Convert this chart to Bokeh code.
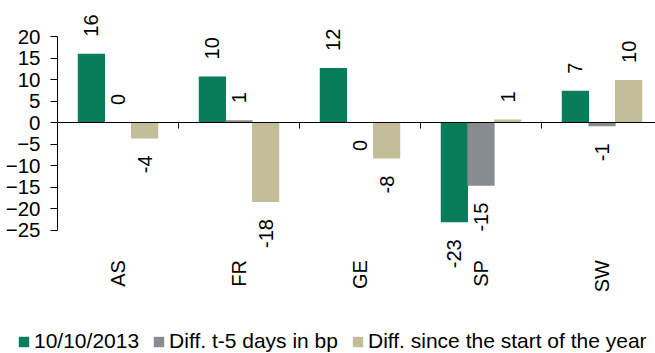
import numpy as np
from bokeh.plotting import figure
from bokeh.models import (ColumnDataSource, Legend, LegendItem, SingleIntervalTicker,
                          FixedTicker, LinearAxis)
from bokeh.core.properties import value
from bokeh.embed import file_html
from bokeh.resources import INLINE

# ---- data ----
categories = ["AS", "FR", "GE", "SP", "SW"]
series_names = ["10/10/2013", "Diff. t-5 days in bp", "Diff. since the start of the year"]
level = [16.0, 10.7, 12.7, -23.2, 7.4]
diff_5d = [0.1, 0.5, -0.1, -14.7, -0.9]
diff_ytd = [-3.7, -18.5, -8.4, 0.7, 9.9]
level_labels = ["16", "10", "12", "-23", "7"]
diff_5d_labels = ["0", "1", "0", "-15", "-1"]
diff_ytd_labels = ["-4", "-18", "-8", "1", "10"]

colors = ["#077d5a", "#878c91", "#c3bd98"]
FONT = "Liberation Sans"

px_per_unit = 4.3
px_per_cat = 121.0
W, H = 655, 353
axis_px = 57
zero_from_top = 122
y_top = zero_from_top / px_per_unit
y_bot = -(H - zero_from_top) / px_per_unit
x_start = -axis_px / px_per_cat
x_end = (W - axis_px) / px_per_cat

p = figure(width=W, height=H, output_backend="svg", toolbar_location=None,
           x_range=(x_start, x_end), y_range=(y_bot, y_top),
           x_axis_location=None, y_axis_location=None,
           min_border_left=0, min_border_right=0, min_border_top=0, min_border_bottom=0)
p.outline_line_color = None
p.grid.visible = False
p.background_fill_color = "white"
p.border_fill_color = "white"

yax = LinearAxis(fixed_location=0)
yax.ticker = SingleIntervalTicker(interval=5, num_minor_ticks=0)
yax.bounds = (-25, 20)
yax.major_label_text_font = FONT
yax.major_label_text_font_size = "20.5px"
yax.major_label_text_color = "black"
yax.axis_line_color = "black"
yax.major_tick_line_color = "black"
yax.major_tick_out = 7
yax.major_tick_in = 0
yax.minor_tick_line_color = None
yax.major_label_standoff = 10
p.add_layout(yax, "left")

xax = LinearAxis(fixed_location=0)
xax.ticker = FixedTicker(ticks=list(range(len(categories) + 1)))
xax.bounds = (0, len(categories))
xax.major_label_text_color = None
xax.major_label_text_font_size = "1px"
xax.axis_line_color = "black"
xax.major_tick_line_color = "black"
xax.major_tick_out = 6
xax.major_tick_in = 0
xax.minor_tick_line_color = None
p.add_layout(xax, "below")

xs = np.arange(len(categories)) + 0.5
offsets = [-0.22, 0.0, 0.22]
series = [level, diff_5d, diff_ytd]
labels = [level_labels, diff_5d_labels, diff_ytd_labels]
bar_w = 0.225

renderers = []
for vals, labs, off, col in zip(series, labels, offsets, colors):
    vals = np.array(vals)
    src = ColumnDataSource(dict(x=xs + off, top=vals, bottom=np.zeros_like(vals)))
    r = p.vbar(x="x", top="top", bottom="bottom", width=bar_w, source=src,
               fill_color=col, line_color=None)
    renderers.append(r)
    pos = vals >= 0
    lab = np.array(labs)
    if pos.any():
        p.text(x=(xs + off)[pos], y=vals[pos], text=lab[pos], angle=np.pi / 2,
               text_align="left", text_baseline="middle", y_offset=-17,
               text_font=value(FONT), text_font_size="20px", text_color="black")
    if (~pos).any():
        p.text(x=(xs + off)[~pos], y=vals[~pos], text=lab[~pos], angle=np.pi / 2,
               text_align="right", text_baseline="middle", y_offset=17,
               text_font=value(FONT), text_font_size="20px", text_color="black")

# category labels
p.text(x=xs, y=np.full(len(xs), -32.0), text=categories, angle=np.pi / 2,
       text_align="right", text_baseline="middle",
       text_font=value(FONT), text_font_size="20px", text_color="black")

legend = Legend(items=[LegendItem(label=n, renderers=[r]) for n, r in zip(series_names, renderers)],
                orientation="horizontal", location=(17, 0))
legend.label_text_font = FONT
legend.label_text_font_size = "21px"
legend.label_text_color = "black"
legend.glyph_width = 13
legend.glyph_height = 13
legend.label_standoff = 4
legend.spacing = 13
legend.padding = 0
legend.margin = 0
legend.border_line_color = None
legend.background_fill_alpha = 0
p.add_layout(legend)

open("out.html", "w").write(file_html(p, INLINE))
